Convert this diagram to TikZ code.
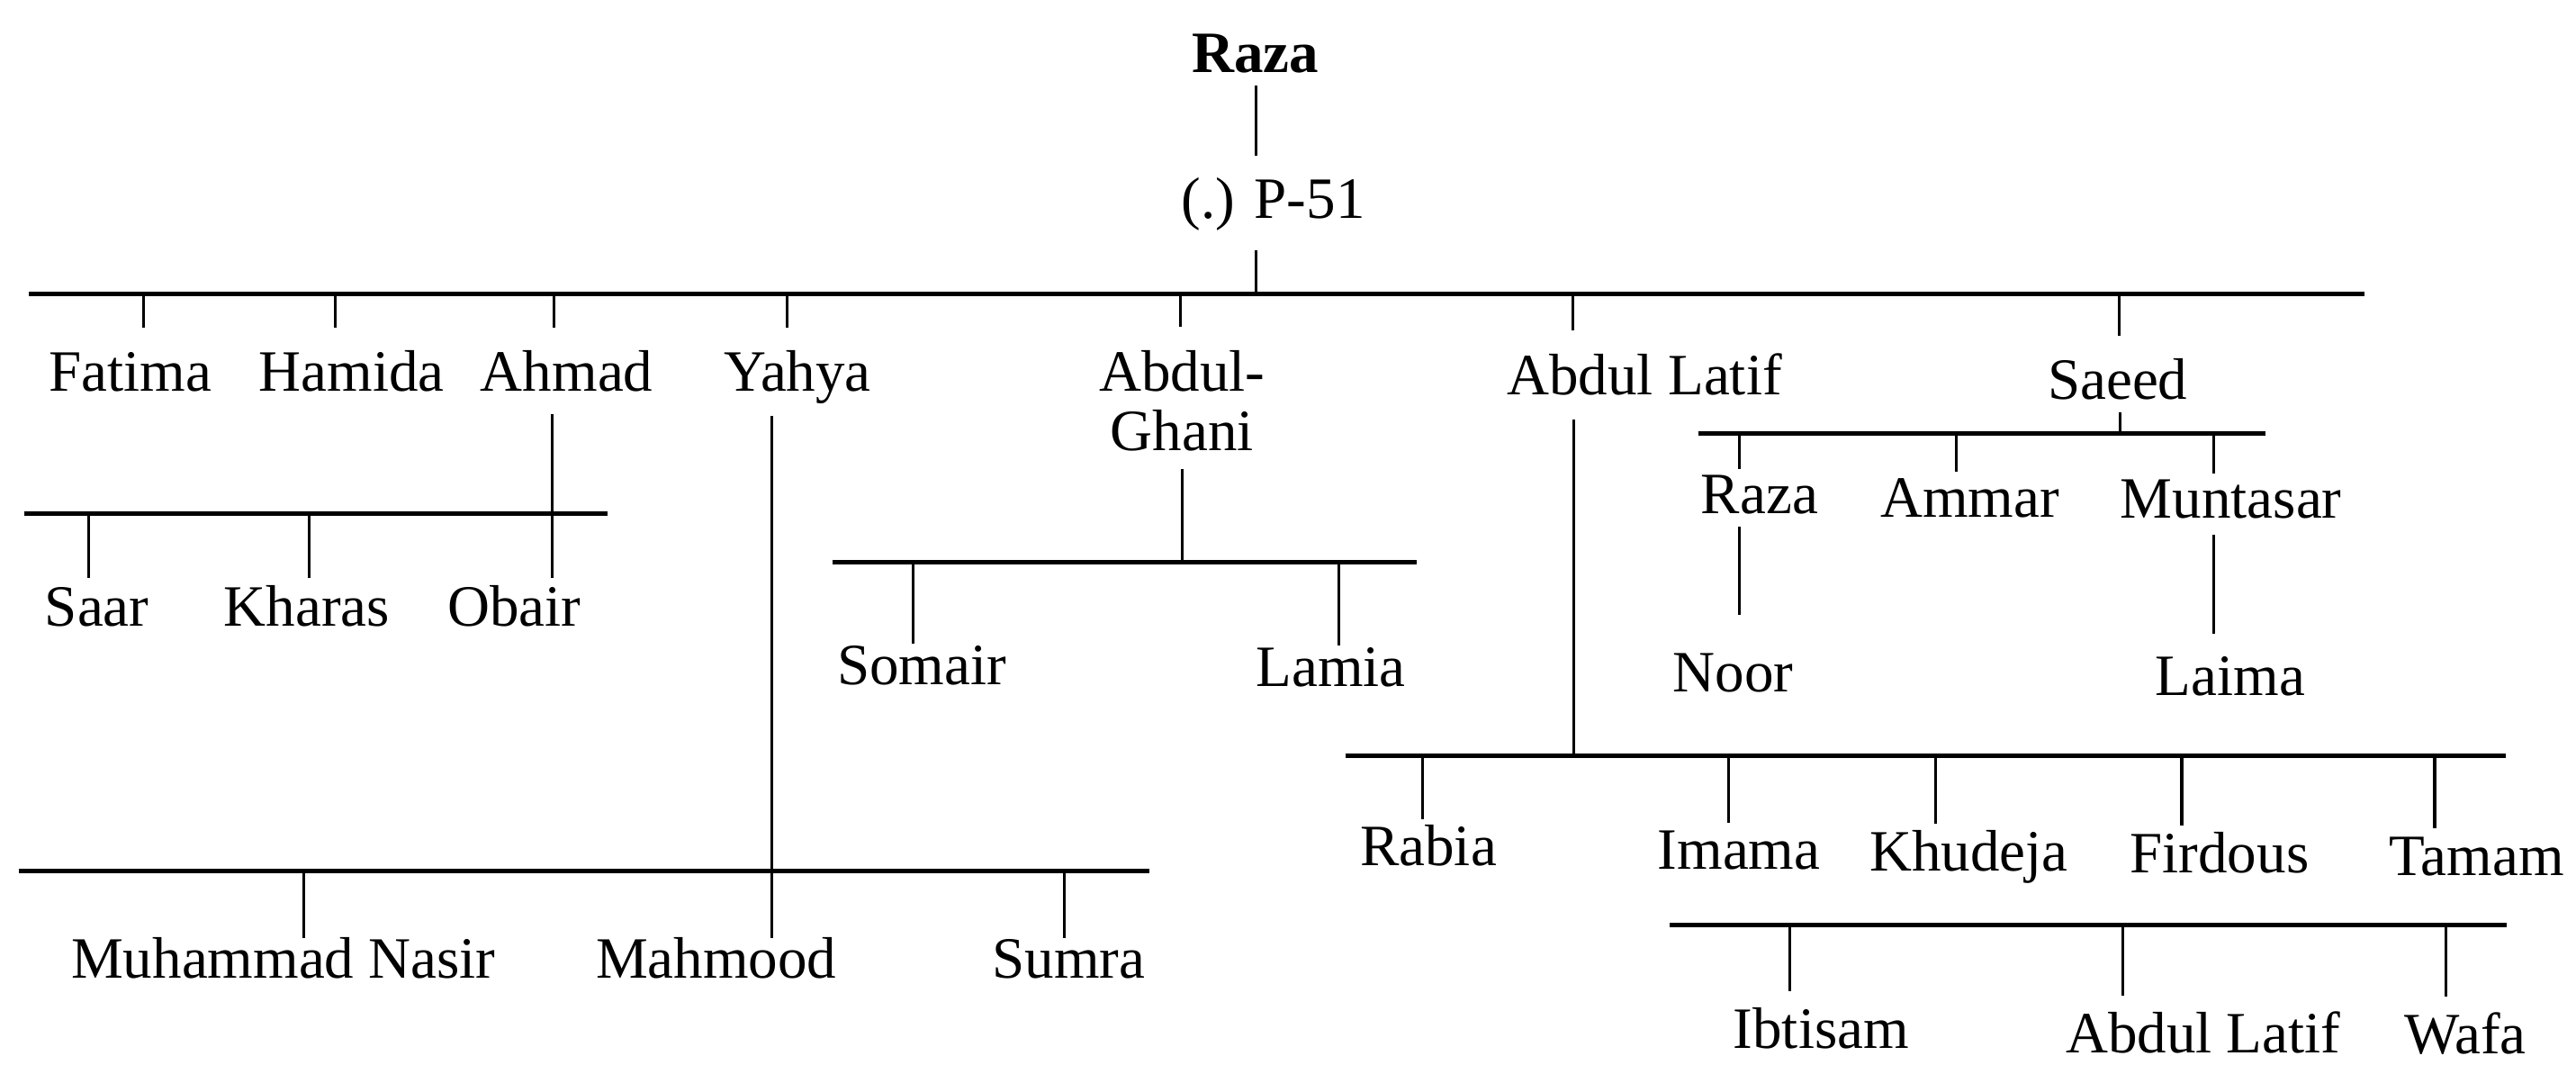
\documentclass[tikz,border=0pt]{standalone}
\usepackage{fontspec}
\setmainfont{Liberation Serif}
\usepackage{tikz}

\begin{document}
\begin{tikzpicture}[
  x=0.1825mm, y=-0.1825mm,
  person/.style={font=\fontsize{18.5}{19}\selectfont,inner sep=0pt,text height=12.6pt,text depth=4pt,anchor=base},
  founder/.style={person,font=\fontsize{18.5}{19}\selectfont\bfseries},
  twoline/.style={font=\fontsize{18.5}{19}\selectfont,inner sep=0pt,align=center,anchor=north},
  kinbar/.style={line width=1.4pt},
  famline/.style={line width=0.9pt}
]
  \useasboundingbox (0,0) rectangle (1568,648);
  % root
  \node[founder] (raza) at (764,44) {Raza};
  \node[person] (p51) at (775,133) {(.) P-51};
  \coordinate (root) at (764.6,179);
  \draw[famline,shorten >=7pt] (root |- raza.south) -- (root |- p51.north);
  \draw[famline,shorten <=5.9pt] (root |- p51.south) -- (root);
  \draw[kinbar] (17.5,179) -- (1439,179);

  % children
  \node[person] (fatima) at (79.5,238) {Fatima};
  \node[person] (hamida) at (214,238) {Hamida};
  \node[person] (ahmad) at (345,238) {Ahmad};
  \node[person] (yahya) at (485.5,238) {Yahya};
  \node[twoline] (abdulghani) at (719.5,212.7) {Abdul-\\Ghani};
  \node[person] (abdullatif) at (1001,240) {Abdul Latif};
  \node[person] (saeed) at (1289,243) {Saeed};
  \coordinate (tFatima) at (87.4,179);
  \coordinate (tHamida) at (204,179);
  \coordinate (tAhmad) at (337.4,179);
  \coordinate (tYahya) at (479,179);
  \coordinate (tGhani) at (718.5,179);
  \coordinate (tLatif) at (957.6,179);
  \coordinate (tSaeed) at (1290,179);
  \draw[famline,shorten >=7.3pt] (tFatima) -- (tFatima |- fatima.north);
  \draw[famline,shorten >=7.3pt] (tHamida) -- (tHamida |- hamida.north);
  \draw[famline,shorten >=7.3pt] (tAhmad) -- (tAhmad |- ahmad.north);
  \draw[famline,shorten >=7.3pt] (tYahya) -- (tYahya |- yahya.north);
  \draw[famline,shorten >=7.3pt] (tGhani) -- (tGhani |- abdulghani.north);
  \draw[famline,shorten >=7.3pt] (tLatif) -- (tLatif |- abdullatif.north);
  \draw[famline,shorten >=7.3pt] (tSaeed) -- (tSaeed |- saeed.north);

  % Ahmad
  \node[person] (saar) at (59,381) {Saar};
  \node[person] (kharas) at (186.7,381) {Kharas};
  \node[person] (obair) at (313,381) {Obair};
  \draw[kinbar] (15,312.5) -- (370,312.5);
  \coordinate (aSaar) at (54,312.5);
  \coordinate (aKharas) at (188.4,312.5);
  \coordinate (aObair) at (336,312.5);
  \draw[famline,shorten <=3pt,shorten >=2.5pt] (aObair |- ahmad.south) -- (aObair |- obair.north);
  \draw[famline,shorten >=2.5pt] (aSaar) -- (aSaar |- saar.north);
  \draw[famline,shorten >=2.5pt] (aKharas) -- (aKharas |- kharas.north);

  % Yahya
  \node[person] (nasir) at (172.5,595.4) {Muhammad Nasir};
  \node[person] (mahmood) at (436,595.4) {Mahmood};
  \node[person] (sumra) at (650.5,595.4) {Sumra};
  \draw[kinbar] (11.4,530) -- (699.7,530);
  \coordinate (yNasir) at (185,530);
  \coordinate (yMahmood) at (469.7,530);
  \coordinate (ySumra) at (648,530);
  \draw[famline,shorten <=3.6pt] (yMahmood |- yahya.south) -- (yMahmood |- mahmood.north);
  \draw[famline] (yNasir) -- (yNasir |- nasir.north);
  \draw[famline] (ySumra) -- (ySumra |- sumra.north);

  % Abdul-Ghani
  \node[person] (somair) at (561,416.6) {Somair};
  \node[person] (lamia) at (810,417.7) {Lamia};
  \draw[kinbar] (507,342) -- (862.6,342);
  \coordinate (gRoot) at (719.6,342);
  \coordinate (gSomair) at (556,342);
  \coordinate (gLamia) at (815,342);
  \draw[famline,shorten <=5.4pt] (gRoot |- abdulghani.south) -- (gRoot);
  \draw[famline] (gSomair) -- (gSomair |- somair.north);
  \draw[famline] (gLamia) -- (gLamia |- lamia.north);

  % Saeed
  \node[person] (razasaeed) at (1071,312.5) {Raza};
  \node[person] (ammar) at (1199,314.5) {Ammar};
  \node[person] (muntasar) at (1358,315.5) {Muntasar};
  \node[person] (noor) at (1055,421) {Noor};
  \node[person] (laima) at (1357.6,423) {Laima};
  \draw[kinbar] (1033.8,264) -- (1379,264);
  \coordinate (sRoot) at (1290.5,264);
  \coordinate (sRaza) at (1058.7,264);
  \coordinate (sAmmar) at (1191,264);
  \coordinate (sMuntasar) at (1347.6,264);
  \draw[famline] (sRoot |- saeed.south) -- (sRoot);
  \draw[famline,shorten >=1.3pt] (sRaza) -- (sRaza |- razasaeed.north);
  \draw[famline,shorten >=1.3pt] (sAmmar) -- (sAmmar |- ammar.north);
  \draw[famline,shorten >=1.3pt] (sMuntasar) -- (sMuntasar |- muntasar.north);
  \draw[famline,shorten >=11.4pt] (sRaza |- razasaeed.south) -- (sRaza |- noor.north);
  \draw[famline,shorten <=0.9pt,shorten >=6.5pt] (sMuntasar |- muntasar.south) -- (sMuntasar |- laima.north);

  % Abdul Latif
  \node[person] (rabia) at (869.5,527) {Rabia};
  \node[person] (imama) at (1058.5,529) {Imama};
  \node[person] (khudeja) at (1198.5,530) {Khudeja};
  \node[person] (firdous) at (1351,531) {Firdous};
  \node[person] (tamam) at (1507.5,532.6) {Tamam};
  \draw[kinbar] (819,460) -- (1525,460);
  \coordinate (lRoot) at (958,460);
  \coordinate (lRabia) at (866,460);
  \coordinate (lImama) at (1052,460);
  \coordinate (lKhudeja) at (1178,460);
  \coordinate (lFirdous) at (1328,460);
  \coordinate (lTamam) at (1482,460);
  \draw[famline,shorten <=3.8pt] (lRoot |- abdullatif.south) -- (lRoot);
  \draw[famline,shorten >=2pt] (lRabia) -- (lRabia |- rabia.north);
  \draw[famline,shorten >=2pt] (lImama) -- (lImama |- imama.north);
  \draw[famline,shorten >=2pt] (lKhudeja) -- (lKhudeja |- khudeja.north);
  \draw[famline,shorten >=2pt] (lFirdous) -- (lFirdous |- firdous.north);
  \draw[famline,shorten >=2pt] (lTamam) -- (lTamam |- tamam.north);

  % lower row
  \node[person] (ibtisam) at (1108.5,638) {Ibtisam};
  \node[person] (abdullatifb) at (1341,641) {Abdul Latif};
  \node[person] (wafa) at (1500.5,641.5) {Wafa};
  \draw[kinbar] (1016.5,563) -- (1526,563);
  \coordinate (bIbtisam) at (1089.6,563);
  \coordinate (bLatif) at (1292,563);
  \coordinate (bWafa) at (1489,563);
  \draw[famline,shorten >=5.3pt] (bIbtisam) -- (bIbtisam |- ibtisam.north);
  \draw[famline,shorten >=5.3pt] (bLatif) -- (bLatif |- abdullatifb.north);
  \draw[famline,shorten >=5.3pt] (bWafa) -- (bWafa |- wafa.north);
\end{tikzpicture}
\end{document}
